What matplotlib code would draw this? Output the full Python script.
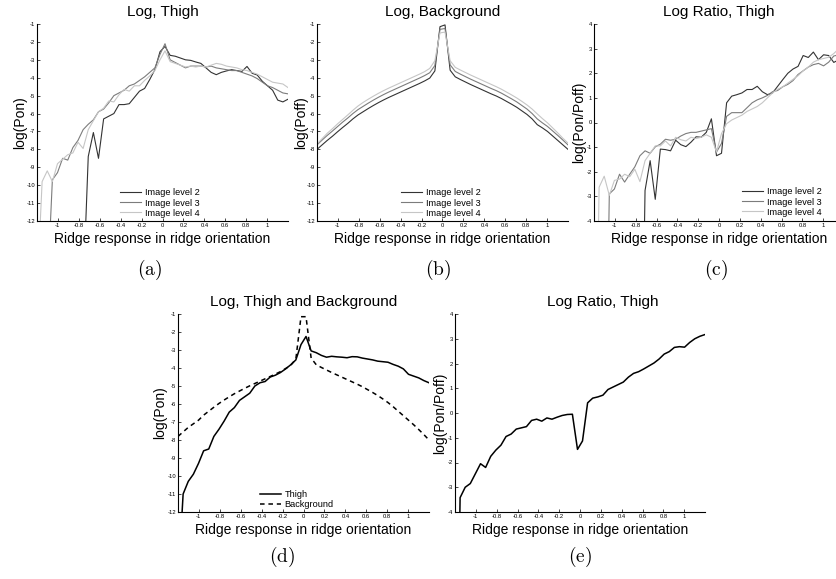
import numpy as np
import matplotlib
matplotlib.use("Agg")
import matplotlib.pyplot as plt

plt.rcParams['font.family'] = ['Liberation Sans', 'DejaVu Sans']
plt.rcParams['axes.unicode_minus'] = False
plt.rcParams['mathtext.fontset'] = 'cm'

# bin centres of the ridge response histogram (50 bins from -1.2 to 1.2)
ridge = [-1.2, -1.151, -1.102, -1.053, -1.004, -0.955, -0.906, -0.857, -0.808, -0.759,
         -0.710, -0.661, -0.612, -0.563, -0.514, -0.465, -0.416, -0.367, -0.318, -0.269,
         -0.220, -0.171, -0.122, -0.073, -0.024, 0.024, 0.073, 0.122, 0.171, 0.220,
         0.269, 0.318, 0.367, 0.416, 0.465, 0.514, 0.563, 0.612, 0.661, 0.710,
         0.759, 0.808, 0.857, 0.906, 0.955, 1.004, 1.053, 1.102, 1.151, 1.2]

levels = ['Image level 2', 'Image level 3', 'Image level 4']

# (a) log(Pon), thigh  (-16 stands for empty bins, log(0))
pon_l2 = [-16, -16, -16, -16, -16, -16, -16, -16, -16, -16,
          -8.4, -7.06, -8.5, -6.3, -6.15, -6.0, -5.5, -5.5, -5.45, -5.1,
          -4.75, -4.6, -4.1, -3.55, -2.55, -2.25, -2.75, -2.8, -2.9, -3.0,
          -3.03, -3.12, -3.2, -3.45, -3.7, -3.83, -3.7, -3.62, -3.55, -3.6,
          -3.65, -3.37, -3.75, -3.85, -4.2, -4.45, -4.7, -5.25, -5.35, -5.2]
pon_l3 = [-16, -16, -16, -9.7, -9.3, -8.5, -8.6, -7.9, -7.5, -6.9,
          -6.6, -6.35, -5.9, -5.75, -5.4, -5.0, -4.85, -4.7, -4.45, -4.35,
          -4.15, -3.95, -3.7, -3.45, -2.7, -2.1, -3.0, -3.15, -3.3, -3.45,
          -3.35, -3.35, -3.35, -3.4, -3.35, -3.45, -3.5, -3.55, -3.6, -3.6,
          -3.7, -3.8, -3.9, -4.05, -4.25, -4.45, -4.55, -4.7, -4.85, -4.9]
pon_l4 = [-16, -9.8, -9.2, -9.8, -8.8, -8.55, -8.3, -8.2, -7.6, -7.95,
          -6.9, -6.4, -5.9, -5.7, -5.3, -5.35, -4.95, -4.65, -4.75, -4.45,
          -4.45, -4.15, -3.9, -3.6, -3.0, -2.5, -3.1, -3.2, -3.3, -3.4,
          -3.35, -3.4, -3.35, -3.4, -3.3, -3.2, -3.25, -3.35, -3.4, -3.45,
          -3.55, -3.6, -3.7, -3.8, -3.95, -4.1, -4.25, -4.3, -4.35, -4.55]

# (b) log(Poff), background
poff_l2 = [-8.0, -7.75, -7.5, -7.27, -7.02, -6.78, -6.55, -6.3, -6.08, -5.9,
           -5.72, -5.55, -5.39, -5.24, -5.1, -4.97, -4.84, -4.71, -4.58, -4.45,
           -4.32, -4.18, -4.02, -3.62, -1.15, -1.05, -3.58, -3.95, -4.1, -4.24,
           -4.38, -4.51, -4.64, -4.77, -4.9, -5.02, -5.16, -5.32, -5.48, -5.65,
           -5.85, -6.05, -6.3, -6.62, -6.8, -7.0, -7.25, -7.5, -7.75, -8.0]
poff_l3 = [-7.75, -7.48, -7.22, -6.98, -6.73, -6.48, -6.25, -6.0, -5.78, -5.6,
           -5.42, -5.25, -5.09, -4.94, -4.8, -4.67, -4.54, -4.41, -4.28, -4.15,
           -4.02, -3.88, -3.72, -3.32, -1.3, -1.25, -3.28, -3.65, -3.8, -3.94,
           -4.08, -4.21, -4.34, -4.47, -4.6, -4.72, -4.86, -5.02, -5.18, -5.35,
           -5.55, -5.75, -6.0, -6.3, -6.52, -6.72, -6.97, -7.22, -7.48, -7.75]
poff_l4 = [-7.7, -7.4, -7.1, -6.85, -6.58, -6.33, -6.08, -5.82, -5.58, -5.38,
           -5.2, -5.03, -4.87, -4.72, -4.58, -4.45, -4.32, -4.19, -4.06, -3.93,
           -3.8, -3.66, -3.48, -3.05, -1.5, -1.45, -3.05, -3.42, -3.57, -3.71,
           -3.85, -3.98, -4.11, -4.24, -4.37, -4.5, -4.64, -4.8, -4.96, -5.13,
           -5.32, -5.52, -5.75, -6.02, -6.28, -6.52, -6.8, -7.08, -7.38, -7.65]

# (c) log(Pon/Poff), thigh
ratio_l2 = [-16, -16, -16, -16, -16, -16, -16, -16, -16, -16,
            -2.76, -1.55, -3.12, -1.08, -1.1, -1.15, -0.72, -0.9, -0.98, -0.8,
            -0.58, -0.6, -0.4, 0.15, -1.35, -1.25, 0.8, 1.07, 1.13, 1.2,
            1.34, 1.34, 1.47, 1.25, 1.13, 1.2, 1.47, 1.74, 2.0, 2.17,
            2.28, 2.72, 2.64, 2.86, 2.55, 2.75, 2.72, 2.44, 2.55, 2.45]
ratio_l3 = [-16, -16, -16, -2.9, -2.7, -2.1, -2.42, -2.1, -1.8, -1.35,
            -1.15, -1.25, -0.99, -0.88, -0.68, -0.72, -0.68, -0.55, -0.45, -0.4,
            -0.4, -0.35, -0.3, -0.25, -1.2, -0.85, 0.25, 0.4, 0.4, 0.4,
            0.6, 0.8, 0.92, 1.0, 1.1, 1.25, 1.3, 1.45, 1.55, 1.7,
            1.95, 2.1, 2.25, 2.35, 2.4, 2.3, 2.45, 2.7, 2.75, 2.75]
ratio_l4 = [-16, -2.63, -2.18, -2.96, -2.35, -2.3, -2.1, -2.2, -1.9, -2.4,
            -1.55, -1.25, -0.95, -0.95, -0.75, -0.95, -0.6, -0.7, -0.75, -0.6,
            -0.65, -0.6, -0.5, -0.6, -1.2, -0.45, -0.05, 0.1, 0.2, 0.3,
            0.45, 0.55, 0.65, 0.8, 1.0, 1.2, 1.35, 1.45, 1.6, 1.75,
            1.9, 2.1, 2.25, 2.45, 2.55, 2.6, 2.65, 2.8, 3.0, 3.1]

# (d) all levels together
thigh = [-16, -11.0, -10.3, -9.9, -9.3, -8.6, -8.5, -7.8, -7.4, -6.95,
         -6.45, -6.2, -5.8, -5.6, -5.4, -5.0, -4.82, -4.75, -4.5, -4.4,
         -4.25, -4.05, -3.82, -3.55, -2.7, -2.25, -3.05, -3.15, -3.3, -3.4,
         -3.35, -3.38, -3.4, -3.43, -3.37, -3.38, -3.45, -3.5, -3.55, -3.62,
         -3.65, -3.68, -3.8, -3.9, -4.05, -4.35, -4.45, -4.55, -4.7, -4.82]
background = [-7.8, -7.55, -7.3, -7.1, -6.9, -6.62, -6.4, -6.18, -5.97, -5.78,
              -5.6, -5.43, -5.28, -5.13, -4.99, -4.86, -4.73, -4.6, -4.47, -4.34,
              -4.2, -4.03, -3.85, -3.5, -1.15, -1.15, -3.45, -3.82, -3.97, -4.11,
              -4.25, -4.38, -4.51, -4.64, -4.77, -4.9, -5.04, -5.2, -5.36, -5.53,
              -5.72, -5.92, -6.15, -6.4, -6.65, -6.9, -7.15, -7.42, -7.7, -8.0]

# (e) log ratio, all levels
ratio_all = [-16, -3.42, -3.0, -2.85, -2.45, -2.05, -2.2, -1.75, -1.5, -1.3,
             -0.95, -0.85, -0.65, -0.6, -0.55, -0.3, -0.25, -0.33, -0.2, -0.25,
             -0.17, -0.1, -0.06, -0.05, -1.47, -1.13, 0.41, 0.6, 0.65, 0.72,
             0.95, 1.05, 1.15, 1.25, 1.45, 1.6, 1.67, 1.78, 1.9, 2.02,
             2.18, 2.38, 2.48, 2.65, 2.68, 2.66, 2.85, 3.0, 3.1, 3.17]

grays = ['#333333', '#7c7c7c', '#c6c6c6']
xt = [-1, -0.8, -0.6, -0.4, -0.2, 0, 0.2, 0.4, 0.6, 0.8, 1]
xt_lab = ['-1', '-0.8', '-0.6', '-0.4', '-0.2', '0', '0.2', '0.4', '0.6', '0.8', '1']

W, H = 837, 579
fig = plt.figure(figsize=(W / 100, H / 100), dpi=100)


def panel(l, t, r, b, ylim, title, ylab, ylab_x, title_x=0.5):
    ax = fig.add_axes([l / W, 1 - b / H, (r - l) / W, (b - t) / H])
    ax.set_xlim(-1.2, 1.2)
    ax.set_ylim(*ylim)
    ax.set_xticks(xt)
    ax.set_xticklabels(xt_lab)
    ax.set_yticks(range(ylim[0], ylim[1] + 1))
    for s in ['top', 'right']:
        ax.spines[s].set_visible(False)
    for s in ['left', 'bottom']:
        ax.spines[s].set_linewidth(0.8)
    ax.tick_params(direction='in', length=2, width=0.5, labelsize=4.2, pad=1.5)
    ax.set_title(title, fontsize=11, pad=6, x=title_x)
    ax.set_xlabel('Ridge response in ridge orientation', fontsize=10, va='center')
    ax.xaxis.set_label_coords(0.5, -18 / (b - t))
    ax.set_ylabel(ylab, fontsize=10, va='center')
    ax.yaxis.set_label_coords((ylab_x - l) / (r - l), 0.5)
    return ax


def legend(ax, x, y, fs=6.6):
    ax.legend(loc='center left', bbox_to_anchor=(x / W, 1 - y / H),
              bbox_transform=fig.transFigure, frameon=False, fontsize=fs,
              handlelength=2.3, handletextpad=0.4, labelspacing=0.12,
              borderpad=0, borderaxespad=0)


# (a)
ax = panel(37, 24, 288, 221, (-12, -1), 'Log, Thigh', 'log(Pon)', 20)
for ys, c, lab in zip([pon_l2, pon_l3, pon_l4], grays, levels):
    ax.plot(ridge, ys, color=c, lw=0.8, label=lab)
legend(ax, 120, 203)

# (b)
ax = panel(317, 24, 568, 221, (-12, -1), 'Log, Background', 'log(Poff)', 301)
for ys, c, lab in zip([poff_l2, poff_l3, poff_l4], grays, levels):
    ax.plot(ridge, ys, color=c, lw=0.8, label=lab)
legend(ax, 401, 203)

# (c)
ax = panel(594, 24, 844, 221, (-4, 4), 'Log Ratio, Thigh', 'log(Pon/Poff)', 579)
for ys, c, lab in zip([ratio_l2, ratio_l3, ratio_l4], grays, levels):
    ax.plot(ridge, ys, color=c, lw=0.8, label=lab)
legend(ax, 742, 202)

# (d)
ax = panel(178, 314, 429, 512, (-12, -1), 'Log, Thigh and Background', 'log(Pon)', 160)
ax.plot(ridge, thigh, color='black', lw=1.1, label='Thigh')
ax.plot(ridge, background, color='black', lw=1.1, ls=(0, (3, 2.5)), label='Background')
legend(ax, 260, 499.5)

# (e)
ax = panel(455, 314, 705, 512, (-4, 4), 'Log Ratio, Thigh', 'log(Pon/Poff)', 440,
           title_x=0.59)
ax.plot(ridge, ratio_all, color='black', lw=1.1)

# sub-figure captions
for lab, x, y in [('a', 150, 270), ('b', 438, 270), ('c', 716, 270),
                  ('d', 282, 557), ('e', 580, 557)]:
    fig.text(x / W, 1 - y / H, r'$\mathrm{(%s)}$' % lab, ha='center', va='center',
             fontsize=14)

fig.savefig('out.png', dpi=100)
